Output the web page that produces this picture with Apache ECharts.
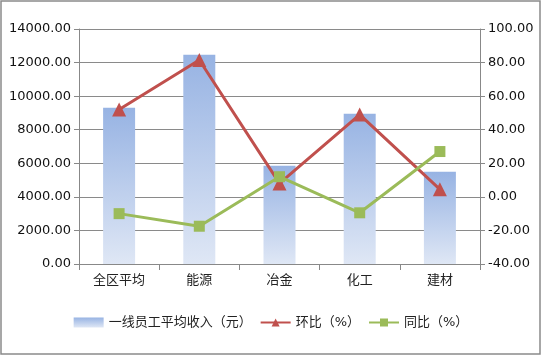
<!DOCTYPE html>
<html><head><meta charset="utf-8">
<script src="https://cdn.jsdelivr.net/npm/echarts@6/dist/echarts.min.js"></script>
<style>html,body{margin:0;padding:0;background:#fff}#c{width:542px;height:356px}</style>
</head><body><div id="c"></div>
<script>
const categories = ['全区平均','能源','冶金','化工','建材'];
const income = [9310, 12470, 5860, 8950, 5500];
const huanbi = [52, 81.5, 8, 49, 4.5];
const tongbi = [-10, -17.5, 12, -9.5, 27];
const leftMin = 0, leftMax = 14000, leftStep = 2000;
const rightMin = -40, rightMax = 100, rightStep = 20;
const font = '"DejaVu Sans","Noto Sans CJK SC",sans-serif';
const chart = echarts.init(document.getElementById('c'));
const barGrad = new echarts.graphic.LinearGradient(0,0,0,1,[{offset:0,color:'#97b3e3'},{offset:1,color:'#dfe7f5'}]);
chart.setOption({
  animation:false,
  graphic:[{type:'rect',shape:{x:1,y:1,width:539,height:353},style:{fill:'none',stroke:'#8a8a8a',lineWidth:1.5},silent:true}],
  grid:{left:79,right:62,top:29,bottom:92},
  legend:{bottom:22,left:'center',itemGap:8,itemWidth:30,itemHeight:10,
    textStyle:{fontFamily:font,fontSize:13,color:'#222'},
    data:[{name:'一线员工平均收入（元）',icon:'rect'},{name:'环比（%）'},{name:'同比（%）'}]},
  xAxis:{type:'category',data:categories,
    axisLine:{lineStyle:{color:'#888',width:1}},
    axisTick:{show:true,alignWithLabel:false,length:6,lineStyle:{color:'#888'}},
    axisLabel:{fontFamily:font,fontSize:13,color:'#222',margin:10}},
  yAxis:[
    {type:'value',min:leftMin,max:leftMax,interval:leftStep,
     axisLine:{show:true,lineStyle:{color:'#888'}},
     axisTick:{show:true,length:5,lineStyle:{color:'#888'}},
     splitLine:{lineStyle:{color:'#8a8a8a',width:1}},
     axisLabel:{fontFamily:font,fontSize:13,color:'#111',margin:8,formatter:v=>v.toFixed(2)}},
    {type:'value',min:rightMin,max:rightMax,interval:rightStep,
     axisLine:{show:true,lineStyle:{color:'#888'}},
     axisTick:{show:true,length:5,lineStyle:{color:'#888'}},
     splitLine:{show:false},
     axisLabel:{fontFamily:font,fontSize:13,color:'#111',margin:8,formatter:v=>v.toFixed(2)}}
  ],
  series:[
    {name:'一线员工平均收入（元）',type:'bar',data:income,barWidth:32,itemStyle:{color:barGrad}},
    {name:'环比（%）',type:'line',yAxisIndex:1,data:huanbi,symbol:'triangle',symbolSize:14,
     lineStyle:{color:'#c0504d',width:3},itemStyle:{color:'#c0504d'}},
    {name:'同比（%）',type:'line',yAxisIndex:1,data:tongbi,symbol:'rect',symbolSize:11,
     lineStyle:{color:'#9bbb59',width:3},itemStyle:{color:'#9bbb59'}}
  ]
});
</script></body></html>
